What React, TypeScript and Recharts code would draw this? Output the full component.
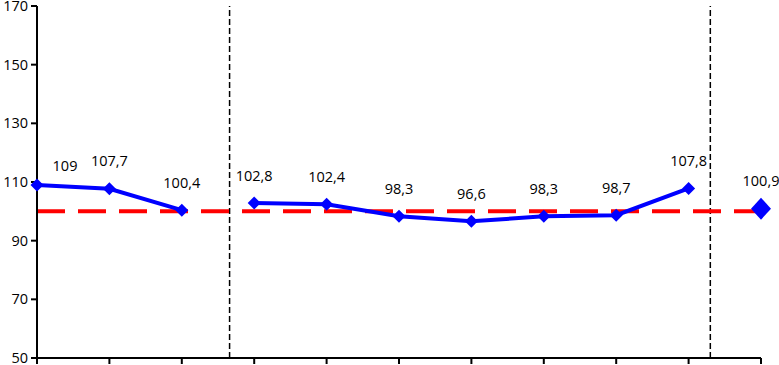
import { LineChart, Line, XAxis, YAxis, ReferenceLine, LabelList } from 'recharts';

// index values
const positions = [0, 1, 2, 3, 4, 5, 6, 7, 8, 9, 10];
const values = [109, 107.7, 100.4, 102.8, 102.4, 98.3, 96.6, 98.3, 98.7, 107.8, 100.9];
// which line segment each point belongs to (the line breaks between groups)
const segments = [0, 0, 0, 1, 1, 1, 1, 1, 1, 1, 2];
const baseline = 100;
const yTicks = [50, 70, 90, 110, 130, 150, 170];
// vertical separators, in category units
const dividers = [2.66, 9.3];

const data = positions.map((p, i) => ({
    pos: p,
    s0: segments[i] === 0 ? values[i] : null,
    s1: segments[i] === 1 ? values[i] : null,
    s2: segments[i] === 2 ? values[i] : null,
}));

const BLUE = '#0000FF';
const FONT = '"Open Sans", sans-serif';

const fmt = (v: number) => String(v).replace('.', ',');

function diamond(w: number, h: number) {
    return (props: any) => {
        const { cx, cy, value, index } = props;
        if (value == null || cx == null || cy == null) return <g key={index} />;
        return (
            <polygon
                key={index}
                points={`${cx},${cy - h} ${cx + w},${cy} ${cx},${cy + h} ${cx - w},${cy}`}
                fill={BLUE}
            />
        );
    };
}

function makeLabel(shiftFirst: boolean) {
    return (props: any) => {
        const { x, y, value, index } = props;
        if (value == null || x == null || y == null) return null;
        const first = shiftFirst && index === 0;
        return (
            <text
                x={first ? x + 28 : x}
                y={first ? y - 19 : y - 28}
                textAnchor="middle"
                dominantBaseline="central"
                fontFamily={FONT}
                fontSize={14.5}
                fill="#000"
            >
                {fmt(value)}
            </text>
        );
    };
}

export default function App() {
    return (
        <div style={{ position: 'absolute', left: 0, top: 0, background: '#fff' }}>
            <LineChart
                width={779}
                height={365}
                data={data}
                margin={{ top: 6, right: 18, left: 0, bottom: 0 }}
            >
                <XAxis
                    type="number"
                    dataKey="pos"
                    domain={[0, 10]}
                    ticks={positions}
                    interval={0}
                    tickFormatter={() => ''}
                    height={7}
                    tickSize={6}
                    stroke="#000"
                    strokeWidth={2}
                />
                <YAxis
                    domain={[50, 170]}
                    ticks={yTicks}
                    interval={0}
                    width={37}
                    tickSize={6}
                    tickMargin={3}
                    stroke="#000"
                    strokeWidth={2}
                    tick={{ fill: '#000', fontSize: 14.5, fontFamily: FONT }}
                />
                {dividers.map((d) => (
                    <ReferenceLine key={d} x={d} stroke="#000" strokeWidth={1.5} strokeDasharray="6 3" />
                ))}
                <ReferenceLine y={baseline} stroke="#FF0000" strokeWidth={4} strokeDasharray="28 13" />
                <Line
                    dataKey="s0"
                    stroke={BLUE}
                    strokeWidth={4}
                    dot={diamond(6.5, 6.5)}
                    activeDot={false}
                    isAnimationActive={false}
                >
                    <LabelList dataKey="s0" content={makeLabel(true)} />
                </Line>
                <Line
                    dataKey="s1"
                    stroke={BLUE}
                    strokeWidth={4}
                    dot={diamond(6.5, 6.5)}
                    activeDot={false}
                    isAnimationActive={false}
                >
                    <LabelList dataKey="s1" content={makeLabel(false)} />
                </Line>
                <Line
                    dataKey="s2"
                    stroke={BLUE}
                    strokeWidth={4}
                    dot={diamond(10, 11)}
                    activeDot={false}
                    isAnimationActive={false}
                >
                    <LabelList dataKey="s2" content={makeLabel(false)} />
                </Line>
            </LineChart>
        </div>
    );
}
